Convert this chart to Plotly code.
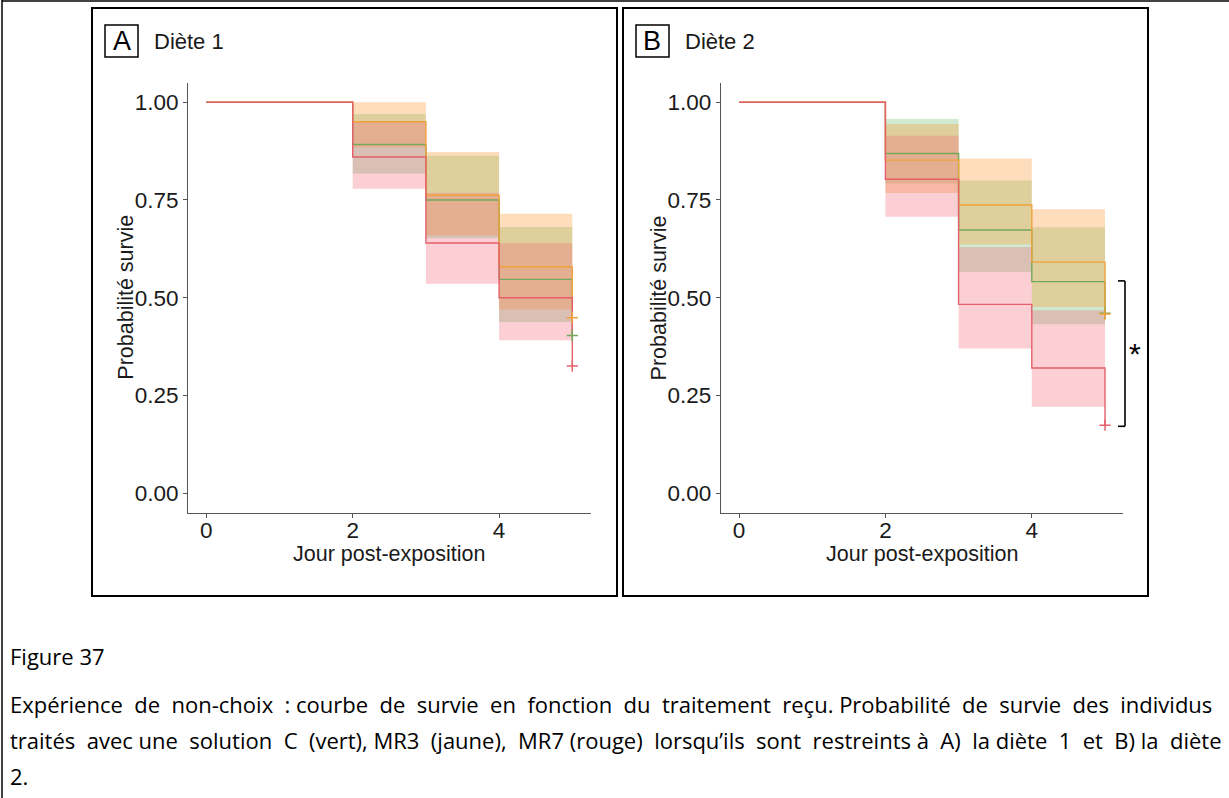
import plotly.graph_objects as go

# ---------------- data ----------------
times = [0, 2, 3, 4, 5]
groups = ["C", "MR3", "MR7"]

# Panel A : Diète 1
A_C_surv = [1.00, 0.892, 0.750, 0.547, 0.403]
A_C_upper = [1.00, 0.970, 0.863, 0.681]
A_C_lower = [1.00, 0.818, 0.652, 0.438]
A_MR3_surv = [1.00, 0.950, 0.762, 0.579, 0.449]
A_MR3_upper = [1.00, 1.000, 0.873, 0.715]
A_MR3_lower = [1.00, 0.885, 0.660, 0.470]
A_MR7_surv = [1.00, 0.860, 0.640, 0.500, 0.325]
A_MR7_upper = [1.00, 0.951, 0.768, 0.639]
A_MR7_lower = [1.00, 0.779, 0.536, 0.391]

# Panel B : Diète 2
B_C_surv = [1.00, 0.869, 0.673, 0.541, 0.460]
B_C_upper = [1.00, 0.957, 0.800, 0.680]
B_C_lower = [1.00, 0.792, 0.566, 0.432]
B_MR3_surv = [1.00, 0.852, 0.737, 0.591, 0.458]
B_MR3_upper = [1.00, 0.944, 0.856, 0.726]
B_MR3_lower = [1.00, 0.768, 0.636, 0.476]
B_MR7_surv = [1.00, 0.803, 0.483, 0.320, 0.174]
B_MR7_upper = [1.00, 0.914, 0.630, 0.468]
B_MR7_lower = [1.00, 0.707, 0.370, 0.221]

x_ticks = [0, 2, 4]
y_ticks = [0, 0.25, 0.5, 0.75, 1.0]
y_tick_labels = ["0.00", "0.25", "0.50", "0.75", "1.00"]

panel_letters = ["A", "B"]
panel_titles = ["Diète 1", "Diète 2"]
x_title = "Jour post-exposition"
y_title = "Probabilité survie"
signif_label = "*"
bracket_range = [0.171, 0.543]

caption_lines = [
    "Figure 37",
    "Expérience de non-choix : courbe de survie en fonction du traitement reçu. Probabilité de survie des individus",
    "traités avec une solution C (vert), MR3 (jaune), MR7 (rouge) lorsqu’ils sont restreints à A) la diète 1 et B) la diète",
    "2.",
]
# extra non-breaking spaces used to emulate the justified paragraph
caption_extra_gaps = [0, 14, 15, 0]

# ---------------- style ----------------
W, H = 1229, 798
line_colors = {"C": "#74A85A", "MR3": "#F0A23A", "MR7": "#E5606B"}
fill_colors = {"C": "rgba(109,191,114,0.33)", "MR3": "rgba(249,158,60,0.35)",
               "MR7": "rgba(242,100,115,0.31)"}
FONT = "Liberation Sans, Arial, sans-serif"
CAP_FONT = "Open Sans, Lato, sans-serif"


def px(x):
    return x / W


def py(y):
    return 1 - y / H


def justify(text, extra):
    words = text.split(" ")
    gaps = len(words) - 1
    if extra <= 0 or gaps <= 0:
        return text
    chosen = set(int(round((i + 0.5) * gaps / extra - 0.5)) for i in range(extra))
    out = words[0]
    for i, w in enumerate(words[1:]):
        out += (" \u00a0" if i in chosen else " ") + w
    return out


panels = [
    {"surv": {"C": A_C_surv, "MR3": A_MR3_surv, "MR7": A_MR7_surv},
     "upper": {"C": A_C_upper, "MR3": A_MR3_upper, "MR7": A_MR7_upper},
     "lower": {"C": A_C_lower, "MR3": A_MR3_lower, "MR7": A_MR7_lower}},
    {"surv": {"C": B_C_surv, "MR3": B_MR3_surv, "MR7": B_MR7_surv},
     "upper": {"C": B_C_upper, "MR3": B_MR3_upper, "MR7": B_MR7_upper},
     "lower": {"C": B_C_lower, "MR3": B_MR3_lower, "MR7": B_MR7_lower}},
]

# layout geometry (pixels)
plot_left = [188, 720.7]
plot_w = 402.6
plot_top, plot_bottom = 82.7, 512.7
box_left = [92, 623]
box_w = 525
box_top, box_bottom = 8, 596


def band_polygon(t, up, lo):
    xs, ys = [], []
    for i in range(len(up)):
        xs += [t[i], t[i + 1]]
        ys += [up[i], up[i]]
    for i in reversed(range(len(lo))):
        xs += [t[i + 1], t[i]]
        ys += [lo[i], lo[i]]
    return xs, ys


fig = go.Figure()
shapes = []
annotations = []

for p, panel in enumerate(panels):
    xa = "x" if p == 0 else "x2"
    ya = "y" if p == 0 else "y2"
    for g in groups:
        bx, by = band_polygon(times, panel["upper"][g], panel["lower"][g])
        fig.add_trace(go.Scatter(x=bx, y=by, fill="toself", fillcolor=fill_colors[g],
                                 line=dict(width=0), mode="lines", hoverinfo="skip",
                                 showlegend=False, xaxis=xa, yaxis=ya))
    for g in groups:
        fig.add_trace(go.Scatter(x=times, y=panel["surv"][g], mode="lines",
                                 line=dict(color=line_colors[g], width=1.4, shape="hv"),
                                 name=g, showlegend=False, xaxis=xa, yaxis=ya))
    for g in groups:
        fig.add_trace(go.Scatter(x=[times[-1]], y=[panel["surv"][g][-1]], mode="markers",
                                 marker=dict(symbol="cross-thin", size=8,
                                             line=dict(color=line_colors[g], width=1.5)),
                                 showlegend=False, xaxis=xa, yaxis=ya, cliponaxis=False))

    shapes.append(dict(type="rect", xref="paper", yref="paper",
                       x0=px(box_left[p]), x1=px(box_left[p] + box_w),
                       y0=py(box_bottom), y1=py(box_top),
                       line=dict(color="black", width=2)))
    lx0 = box_left[p] + 13
    shapes.append(dict(type="rect", xref="paper", yref="paper",
                       x0=px(lx0), x1=px(lx0 + 33), y0=py(57), y1=py(25),
                       line=dict(color="black", width=1.5)))
    annotations.append(dict(text=panel_letters[p], xref="paper", yref="paper",
                            x=px(lx0 + 16.5), y=py(41.5), showarrow=False,
                            xanchor="center", yanchor="middle",
                            font=dict(family=FONT, size=27, color="black")))
    annotations.append(dict(text=panel_titles[p], xref="paper", yref="paper",
                            x=px(lx0 + 47), y=py(41.5), showarrow=False,
                            xanchor="left", yanchor="middle",
                            font=dict(family=FONT, size=22, color="#1a1a1a")))
    annotations.append(dict(text=x_title, xref="paper", yref="paper",
                            x=px(plot_left[p] + plot_w / 2), y=py(554), showarrow=False,
                            xanchor="center", yanchor="middle",
                            font=dict(family=FONT, size=21.5, color="#1a1a1a")))
    annotations.append(dict(text=y_title, xref="paper", yref="paper",
                            x=px(plot_left[p] - 62), y=py((plot_top + plot_bottom) / 2),
                            showarrow=False, textangle=-90,
                            xanchor="center", yanchor="middle",
                            font=dict(family=FONT, size=21.5, color="#1a1a1a")))

bx_line = 1125
shapes.append(dict(type="line", xref="paper", yref="y2", x0=px(bx_line), x1=px(bx_line),
                   y0=bracket_range[0], y1=bracket_range[1],
                   line=dict(color="black", width=1.6)))
for yv in bracket_range:
    shapes.append(dict(type="line", xref="paper", yref="y2", x0=px(bx_line - 7),
                       x1=px(bx_line), y0=yv, y1=yv, line=dict(color="black", width=1.6)))
annotations.append(dict(text=signif_label, xref="paper", yref="y2",
                        x=px(bx_line + 10), y=sum(bracket_range) / 2, showarrow=False,
                        xanchor="center", yanchor="middle",
                        font=dict(family=FONT, size=30, color="black")))

shapes.append(dict(type="line", xref="paper", yref="paper", x0=px(2), x1=px(2),
                   y0=0, y1=1, line=dict(color="black", width=1.5)))
shapes.append(dict(type="line", xref="paper", yref="paper", x0=px(2), x1=1,
                   y0=py(1), y1=py(1), line=dict(color="black", width=1.5)))

cap_y = [656, 704, 740, 776]
for txt, extra, yy in zip(caption_lines, caption_extra_gaps, cap_y):
    annotations.append(dict(text=justify(txt, extra), xref="paper", yref="paper",
                            x=px(8), y=py(yy),
                            showarrow=False, xanchor="left", yanchor="middle",
                            font=dict(family=CAP_FONT, size=22, color="black")))

axis_common = dict(showgrid=False, zeroline=False, showline=True, linecolor="#555",
                   linewidth=1, ticks="outside", tickcolor="#555", ticklen=4,
                   tickfont=dict(family=FONT, size=22.5, color="#1a1a1a"))

ydom = [py(plot_bottom), py(plot_top)]
fig.update_layout(
    width=W, height=H, autosize=False,
    margin=dict(l=0, r=0, t=0, b=0),
    paper_bgcolor="white", plot_bgcolor="white",
    showlegend=False,
    xaxis=dict(domain=[px(plot_left[0]), px(plot_left[0] + plot_w)], range=[-0.25, 5.25],
               tickvals=x_ticks, anchor="y", ticklabelstandoff=-7, **axis_common),
    yaxis=dict(domain=ydom, range=[-0.05, 1.05], tickvals=y_ticks, ticktext=y_tick_labels,
               anchor="x", **axis_common),
    xaxis2=dict(domain=[px(plot_left[1]), px(plot_left[1] + plot_w)], range=[-0.25, 5.25],
                tickvals=x_ticks, anchor="y2", ticklabelstandoff=-7, **axis_common),
    yaxis2=dict(domain=ydom, range=[-0.05, 1.05], tickvals=y_ticks, ticktext=y_tick_labels,
                anchor="x2", **axis_common),
    shapes=shapes,
    annotations=annotations,
)

fig.write_html("out.html", config={"displayModeBar": False},
               post_script="document.body.style.margin='0';document.body.style.overflow='hidden';")
